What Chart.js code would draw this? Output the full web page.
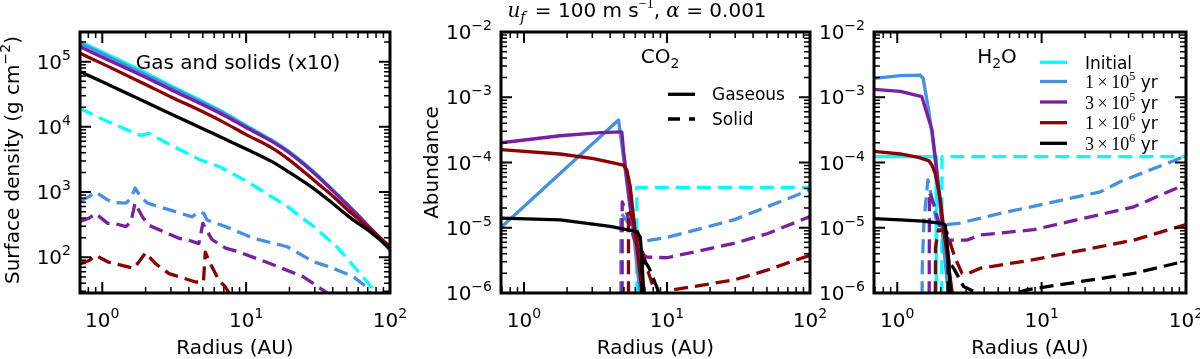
<!DOCTYPE html>
<html><head><meta charset="utf-8">
<script src="https://cdn.jsdelivr.net/npm/chart.js@4.4.0/dist/chart.umd.min.js"></script>
<style>
html,body{margin:0;padding:0;background:#fff;}
body{width:1200px;height:359px;position:relative;overflow:hidden;}
canvas{position:absolute;top:0;}
</style></head><body>
<canvas id="c1" width="420" height="359" style="left:0px"></canvas>
<canvas id="c2" width="420" height="359" style="left:420px"></canvas>
<canvas id="c3" width="400" height="359" style="left:800px"></canvas>
<script>
// ---------------- DATA ----------------
const seriesLabels = ['Initial', '1e5', '3e5', '1e6', '3e6'];
const seriesColors = ['#00FFFF', '#4590E2', '#7A1FA2', '#8B0000', '#000000'];

// Panel 1: surface density (g cm^-2), gas (solid lines)
const p1GasRadius = [0.7, 1, 2, 3, 5, 7, 10, 15, 20, 30, 40, 50, 60, 70, 80, 90, 100];
const p1GasInitial = [204000, 141000, 67600, 42700, 24500, 16600, 10500, 6310, 4170, 2000, 1070, 661, 437, 302, 219, 166, 126];
const p1Gas1e5 = [191000, 132000, 63100, 40700, 23400, 16200, 10200, 6170, 4070, 1950, 1070, 661, 437, 309, 224, 170, 129];
const p1Gas3e5 = [170000, 117000, 57500, 37200, 21900, 15100, 9770, 6030, 3980, 1910, 1050, 646, 437, 309, 229, 178, 135];
const p1Gas1e6 = [135000, 93300, 44700, 28800, 17000, 11700, 7590, 4790, 3090, 1480, 871, 550, 389, 288, 224, 178, 148];
const p1Gas3e6 = [70800, 49000, 24000, 15800, 9330, 6610, 4570, 2950, 2000, 1100, 668, 447, 331, 263, 209, 166, 135];
// Panel 1: solids x10 (dashed lines)
const p1SolInitialR = [0.7, 1, 1.5, 1.86, 2.1, 3, 4.84, 6.66, 10, 19.3, 29.5, 42.7, 62, 74.5, 85];
const p1SolInitial = [19100, 13200, 8910, 7410, 7940, 5250, 3090, 2400, 1480, 603, 295, 145, 56.2, 34.7, 17.8];
const p1Sol1e5R = [0.7, 0.81, 0.9, 1.09, 1.18, 1.46, 1.58, 1.69, 1.85, 2.06, 4.22, 4.69, 5.08, 5.35, 7.2, 11.3, 19.3, 29.5, 38.4, 55.7, 69, 80];
const p1Sol1e5 = [724, 851, 1000, 759, 692, 676, 794, 1148, 851, 676, 417, 501, 468, 372, 295, 195, 145, 85.1, 70.8, 50.1, 34.7, 20];
const p1Sol3e5R = [0.7, 0.81, 0.9, 1.09, 1.21, 1.46, 1.58, 1.69, 1.90, 2.11, 3.41, 4.0, 4.69, 5.0, 5.35, 5.8, 7.2, 8.7, 14.8, 25, 34.6, 40];
const p1Sol3e5 = [355, 398, 468, 331, 331, 295, 347, 676, 417, 309, 195, 182, 162, 331, 251, 186, 138, 123, 79.4, 50.1, 30.9, 24];
const p1Sol1e6R = [0.7, 0.81, 0.9, 1.09, 1.46, 1.66, 2.0, 2.35, 2.91, 4.45, 5.05, 5.2, 5.5, 6.45, 7.2, 7.6];
const p1Sol1e6 = [79.4, 89.1, 107, 85.1, 72.4, 67.6, 117, 79.4, 56.2, 41.7, 41.7, 120, 89.1, 44.7, 34.7, 28.2];

// Panel 2: CO2 abundance, gaseous
const co2Gas1e5R = [0.68, 4.58, 5.80, 6.7];
const co2Gas1e5 = [9.8e-6, 4.47e-4, 9.1e-6, 5e-7];
const co2Gas3e5R = [0.68, 1.79, 3.41, 4.83, 4.96, 5.53, 5.83, 6.31, 6.85, 7.2];
const co2Gas3e5 = [2.0e-4, 2.57e-4, 2.88e-4, 2.95e-4, 1.55e-4, 2.1e-5, 1.05e-5, 4.6e-6, 1.12e-6, 5e-7];
const co2Gas1e6R = [0.68, 1.79, 3.06, 4.96, 5.24, 5.53, 5.83, 6.15, 6.5, 6.85];
const co2Gas1e6 = [1.58e-4, 1.35e-4, 1.15e-4, 9.1e-5, 7.6e-5, 4.27e-5, 1.48e-5, 5.1e-6, 1.78e-6, 6.3e-7];
const co2Gas3e6R = [0.68, 1.79, 4.0, 6.15, 6.5, 6.68, 6.85, 7.0];
const co2Gas3e6 = [1.41e-5, 1.32e-5, 1.05e-5, 8.7e-6, 7.2e-6, 3.2e-6, 1.12e-6, 5e-7];
// Panel 2: CO2 abundance, solid
const co2SolInitialR = [6.14, 6.15, 100];
const co2SolInitial = [1e-7, 4.17e-5, 4.17e-5];
const co2Sol1e5R = [4.75, 4.76, 5.68, 6.3, 10, 29.3, 100];
const co2Sol1e5 = [1e-7, 1.7e-5, 9.8e-6, 6.0e-6, 7.1e-6, 1.32e-5, 3.8e-5];
const co2Sol3e5R = [4.85, 4.86, 5.24, 5.83, 6.5, 7.24, 10, 29.3, 50.1, 100];
const co2Sol3e5 = [1e-7, 2.5e-5, 1.66e-5, 7.2e-6, 4.1e-6, 3.55e-6, 3.47e-6, 5.75e-6, 8.1e-6, 1.48e-5];
const co2Sol1e6R = [5.37, 5.38, 5.68, 6.2, 6.68, 7.24, 7.85, 9.0, 11.1, 29.3, 50.1, 100];
const co2Sol1e6 = [1e-7, 1.78e-5, 1.48e-5, 8.9e-6, 4.57e-6, 2.4e-6, 1.41e-6, 9.3e-7, 1.12e-6, 1.58e-6, 2.24e-6, 3.8e-6];
const co2Sol3e6R = [6.67, 6.68, 7.5, 8.27, 9.0, 12];
const co2Sol3e6 = [1e-7, 3.63e-6, 2.4e-6, 1.41e-6, 8.9e-7, 5e-7];

// Panel 3: H2O abundance, gaseous
const h2oGasInitialR = [0.69, 1.86, 1.87];
const h2oGasInitial = [1.23e-4, 1.23e-4, 1e-7];
const h2oGas1e5R = [0.69, 1.05, 1.44, 1.51, 1.65, 1.74, 1.83, 1.95, 2.1, 2.3];
const h2oGas1e5 = [1.95e-3, 2.14e-3, 2.19e-3, 1.95e-3, 6.3e-4, 2.8e-4, 1.1e-4, 3.2e-5, 5e-6, 6.3e-7];
const h2oGas3e5R = [0.69, 1.05, 1.48, 1.74, 1.88, 2.04, 2.27, 2.33, 2.4];
const h2oGas3e5 = [1.32e-3, 1.23e-3, 1.02e-3, 3.16e-4, 7.6e-5, 1.32e-5, 3.24e-6, 1.12e-6, 5e-7];
const h2oGas1e6R = [0.69, 1.05, 1.4, 1.65, 1.74, 1.83, 1.99, 2.09, 2.27, 2.39, 2.5];
const h2oGas1e6 = [1.48e-4, 1.35e-4, 1.2e-4, 1.07e-4, 9.1e-5, 6.8e-5, 2.7e-5, 1.05e-5, 2.5e-6, 1.12e-6, 5e-7];
const h2oGas3e6R = [0.69, 1.05, 1.5, 2.04, 2.15, 2.27, 2.33, 2.4];
const h2oGas3e6 = [1.38e-5, 1.32e-5, 1.26e-5, 1.17e-5, 1.1e-5, 3.24e-6, 1.12e-6, 5e-7];
// Panel 3: H2O abundance, solid
const h2oSolInitialR = [2.03, 2.04, 100];
const h2oSolInitial = [1e-7, 1.23e-4, 1.23e-4];
const h2oSol1e5R = [1.475, 1.49, 1.53, 1.63, 1.72, 1.85, 2.09, 2.66, 3.66, 5.18, 25.5, 35.2, 100];
const h2oSol1e5 = [1e-7, 2.5e-6, 1.26e-5, 5.4e-5, 3.16e-5, 1.41e-5, 1.1e-5, 1.17e-5, 1.38e-5, 1.66e-5, 3.55e-5, 5.1e-5, 1.26e-4];
const h2oSol3e5R = [1.66, 1.67, 1.78, 1.95, 2.27, 3.04, 3.76, 8.81, 43.5, 100];
const h2oSol3e5 = [1e-7, 3.55e-5, 2.4e-5, 1.12e-5, 6.46e-6, 6.46e-6, 7.76e-6, 9.33e-6, 2.09e-5, 4.68e-5];
const h2oSol1e6R = [1.83, 1.84, 1.93, 2.2, 2.5, 2.81, 3.12, 3.76, 8.81, 43.5, 100];
const h2oSol1e6 = [1e-7, 5.0e-6, 9.3e-6, 8.7e-6, 3.55e-6, 2.0e-6, 2.0e-6, 2.4e-6, 3.24e-6, 6.46e-6, 1.12e-5];
const h2oSol3e6R = [2.24, 2.25, 2.5, 2.88, 4.5, 7.92, 43.5, 100];
const h2oSol3e6 = [1e-7, 3.24e-6, 2.24e-6, 1.26e-6, 7.9e-7, 1.12e-6, 2.0e-6, 3.1e-6];

// Tick labels
const xTickValues = [1, 10, 100];
const xTickExps = ['0', '1', '2'];
const p1YTickValues = [1e2, 1e3, 1e4, 1e5];
const p1YTickExps = ['2', '3', '4', '5'];
const abYTickValues = [1e-6, 1e-5, 1e-4, 1e-3, 1e-2];
const abYTickExps = ['-6', '-5', '-4', '-3', '-2'];
const legendExps = [['1', '5'], ['3', '5'], ['1', '6'], ['3', '6']];

// ---------------- DRAWING ----------------
const SANS = '"DejaVu Sans", sans-serif';
const SERIF = '"Liberation Serif", "DejaVu Serif", serif';
const DASH = [14, 7];

function pts(r, v) { return r.map((x, i) => ({ x: x, y: v[i] })); }
function makeDatasets(list) {
  const n = list.length;
  return list.map((s, i) => ({
    data: pts(s[0], s[1]),
    borderColor: seriesColors[s[2]],
    borderWidth: 3.3,
    borderDash: s[3] ? DASH : [],
    borderCapStyle: 'butt',
    borderJoinStyle: 'round',
    pointRadius: 0,
    fill: false,
    tension: s[4] ? 0.4 : 0,
    cubicInterpolationMode: s[4] ? 'monotone' : 'default',
    order: n - i
  }));
}

function rich(ctx, pieces, x, y, align) {
  let w = 0;
  pieces.forEach(p => { ctx.font = p.f; p.w = ctx.measureText(p.t).width + (p.gap || 0); w += p.w; });
  let cx = align === 'center' ? x - w / 2 : (align === 'right' ? x - w : x);
  ctx.textAlign = 'left'; ctx.textBaseline = 'alphabetic';
  pieces.forEach(p => { ctx.font = p.f; ctx.fillText(p.t, cx, y + (p.dy || 0)); cx += p.w; });
  return w;
}
function pow10(e) {
  return [{ t: '10', f: '20px ' + SANS }, { t: e.replace('-', '\u2212'), f: '14px ' + SANS, dy: -9 }];
}

function panelPlugin(spec) {
  return {
    id: 'panel_' + spec.id,
    afterDatasetsDraw(chart) {
      const ctx = chart.ctx, a = chart.chartArea, xs = chart.scales.x, ys = chart.scales.y;
      ctx.save();
      ctx.strokeStyle = '#000'; ctx.fillStyle = '#000';
      const ticks = (scale, horiz) => {
        const lo = Math.floor(Math.log10(scale.min)), hi = Math.ceil(Math.log10(scale.max));
        for (let d = lo; d <= hi; d++) for (let k = 1; k <= 9; k++) {
          const v = k * Math.pow(10, d);
          if (v < scale.min * 0.999 || v > scale.max * 1.001) continue;
          const p = scale.getPixelForValue(v);
          const L = k === 1 ? 11 : 6;
          ctx.lineWidth = k === 1 ? 2 : 1.5;
          ctx.beginPath();
          if (horiz) {
            ctx.moveTo(p, a.bottom); ctx.lineTo(p, a.bottom - L);
            ctx.moveTo(p, a.top); ctx.lineTo(p, a.top + L);
          } else {
            ctx.moveTo(a.left, p); ctx.lineTo(a.left + L, p);
            ctx.moveTo(a.right, p); ctx.lineTo(a.right - L, p);
          }
          ctx.stroke();
        }
      };
      ticks(xs, true); ticks(ys, false);
      ctx.lineWidth = 3;
      ctx.strokeRect(a.left, a.top, a.right - a.left, a.bottom - a.top);
      xTickValues.forEach((v, i) => rich(ctx, pow10(xTickExps[i]), xs.getPixelForValue(v), 327, 'center'));
      spec.yTicks.forEach((v, i) => rich(ctx, pow10(spec.yExps[i]), a.left - 9, ys.getPixelForValue(v) + 7, 'right'));
      rich(ctx, [{ t: 'Radius (AU)', f: '20px ' + SANS }], (a.left + a.right) / 2, 354, 'center');
      spec.extra(ctx, a);
      ctx.restore();
    }
  };
}

function makeChart(id, spec) {
  return new Chart(document.getElementById(id), {
    type: 'line',
    data: { datasets: makeDatasets(spec.series) },
    options: {
      responsive: false, animation: false, events: [],
      layout: { padding: { top: 32, right: spec.padRight, left: 0, bottom: 0 } },
      plugins: { legend: { display: false }, tooltip: { enabled: false }, title: { display: false } },
      scales: {
        x: { type: 'logarithmic', position: 'bottom', min: spec.xmin, max: 100,
             ticks: { display: false }, grid: { display: false }, border: { display: false },
             afterFit: s => { s.height = 66; } },
        y: { type: 'logarithmic', position: 'left', min: spec.ymin, max: spec.ymax,
             ticks: { display: false }, grid: { display: false }, border: { display: false },
             afterFit: s => { s.width = spec.yWidth; } }
      }
    },
    plugins: [panelPlugin(spec)]
  });
}

function legendLine(ctx, x0, x1, y, color, dashed) {
  ctx.save();
  ctx.strokeStyle = color; ctx.lineWidth = 3.3; ctx.lineCap = 'butt';
  ctx.setLineDash(dashed ? [12, 9] : []);
  ctx.beginPath(); ctx.moveTo(x0, y); ctx.lineTo(x1, y); ctx.stroke();
  ctx.restore();
}

// Panel 1
makeChart('c1', {
  id: 1, xmin: 0.71, ymin: 28.3, ymax: 2.85e5, yWidth: 80, padRight: 30,
  yTicks: p1YTickValues, yExps: p1YTickExps,
  series: [
    [p1GasRadius, p1GasInitial, 0, false, true], [p1SolInitialR, p1SolInitial, 0, true],
    [p1GasRadius, p1Gas1e5, 1, false, true], [p1Sol1e5R, p1Sol1e5, 1, true],
    [p1GasRadius, p1Gas3e5, 2, false, true], [p1Sol3e5R, p1Sol3e5, 2, true],
    [p1GasRadius, p1Gas1e6, 3, false, true], [p1Sol1e6R, p1Sol1e6, 3, true],
    [p1GasRadius, p1Gas3e6, 4, false, true]
  ],
  extra(ctx, a) {
    rich(ctx, [{ t: 'Gas and solids (x10)', f: '20px ' + SANS }], 238, 68.5, 'center');
    ctx.save(); ctx.translate(18.5, 160); ctx.rotate(-Math.PI / 2);
    rich(ctx, [{ t: 'Surface density (g cm', f: '20px ' + SANS }, { t: '\u22122', f: '14px ' + SANS, dy: -9 }, { t: ')', f: '20px ' + SANS }], 0, 0, 'center');
    ctx.restore();
  }
});

// Panel 2
makeChart('c2', {
  id: 2, xmin: 0.69, ymin: 1e-6, ymax: 1e-2, yWidth: 81, padRight: 30,
  yTicks: abYTickValues, yExps: abYTickExps,
  series: [
    [co2SolInitialR, co2SolInitial, 0, true],
    [co2Gas1e5R, co2Gas1e5, 1, false], [co2Sol1e5R, co2Sol1e5, 1, true],
    [co2Gas3e5R, co2Gas3e5, 2, false], [co2Sol3e5R, co2Sol3e5, 2, true],
    [co2Gas1e6R, co2Gas1e6, 3, false], [co2Sol1e6R, co2Sol1e6, 3, true],
    [co2Gas3e6R, co2Gas3e6, 4, false], [co2Sol3e6R, co2Sol3e6, 4, true]
  ],
  extra(ctx, a) {
    const ser = 'italic 20px "DejaVu Serif", serif';
    rich(ctx, [
      { t: 'u', f: ser }, { t: 'f', f: 'italic 14px "DejaVu Serif", serif', dy: 5, gap: 3 },
      { t: ' = 100 m s', f: '20px ' + SANS }, { t: '\u22121', f: '14px ' + SERIF, dy: -9 },
      { t: ', ', f: '20px ' + SANS }, { t: '\u03B1', f: ser }, { t: ' = 0.001', f: '20px ' + SANS }
    ], 217, 17, 'center');
    rich(ctx, [{ t: 'CO', f: '20px ' + SANS }, { t: '2', f: '14px ' + SANS, dy: 5 }], 240, 63, 'center');
    ctx.save(); ctx.translate(18, 162.5); ctx.rotate(-Math.PI / 2);
    rich(ctx, [{ t: 'Abundance', f: '20px ' + SANS }], 0, 0, 'center');
    ctx.restore();
    legendLine(ctx, 248, 275, 94.3, '#000', false);
    legendLine(ctx, 248, 275, 119, '#000', true);
    rich(ctx, [{ t: 'Gaseous', f: '17px ' + SANS }], 292, 100, 'left');
    rich(ctx, [{ t: 'Solid', f: '17px ' + SANS }], 292, 125, 'left');
  }
});

// Panel 3
makeChart('c3', {
  id: 3, xmin: 0.69, ymin: 1e-6, ymax: 1e-2, yWidth: 74, padRight: 14,
  yTicks: abYTickValues, yExps: abYTickExps,
  series: [
    [h2oGasInitialR, h2oGasInitial, 0, false], [h2oSolInitialR, h2oSolInitial, 0, true],
    [h2oGas1e5R, h2oGas1e5, 1, false], [h2oSol1e5R, h2oSol1e5, 1, true],
    [h2oGas3e5R, h2oGas3e5, 2, false], [h2oSol3e5R, h2oSol3e5, 2, true],
    [h2oGas1e6R, h2oGas1e6, 3, false], [h2oSol1e6R, h2oSol1e6, 3, true],
    [h2oGas3e6R, h2oGas3e6, 4, false], [h2oSol3e6R, h2oSol3e6, 4, true]
  ],
  extra(ctx, a) {
    rich(ctx, [{ t: 'H', f: '20px ' + SANS }, { t: '2', f: '14px ' + SANS, dy: 5 }, { t: 'O', f: '20px ' + SANS }], 197, 63, 'center');
    const rows = [62.3, 81.5, 102, 122.7, 143.3];
    legendLine(ctx, 240, 267, rows[0], seriesColors[0], false);
    rich(ctx, [{ t: 'Initial', f: '17px ' + SANS }], 285, rows[0] + 6.5, 'left');
    legendExps.forEach((e, i) => {
      const y = rows[i + 1];
      legendLine(ctx, 240, 267, y, seriesColors[i + 1], false);
      rich(ctx, [
        { t: e[0] + '\u2009\u00D7\u200910', f: '18px ' + SERIF },
        { t: e[1], f: '12px ' + SERIF, dy: -8 },
        { t: ' yr', f: '17px ' + SANS }
      ], 285, y + 6.5, 'left');
    });
  }
});
</script>
</body></html>
